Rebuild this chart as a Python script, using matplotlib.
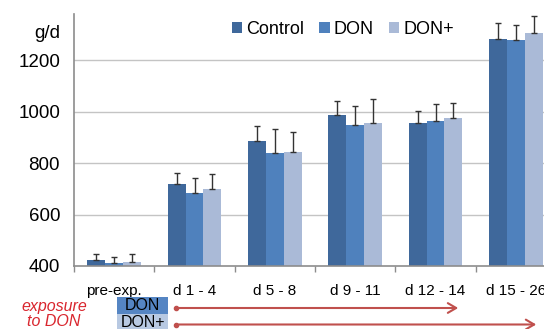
import matplotlib.pyplot as plt
import numpy as np
from matplotlib.patches import Rectangle, FancyArrowPatch

plt.rcParams['font.family'] = ['Liberation Sans', 'DejaVu Sans']

# data
categories = ['pre-exp.', 'd 1 - 4', 'd 5 - 8', 'd 9 - 11', 'd 12 - 14', 'd 15 - 26']
control = [423, 719, 886, 987, 956, 1283]
control_err = [24, 43, 59, 55, 47, 61]
don = [412, 684, 840, 948, 964, 1279]
don_err = [24, 57, 94, 73, 65, 57]
donp = [416, 700, 843, 956, 976, 1306]
donp_err = [29, 57, 77, 92, 57, 66]

series = ['Control', 'DON', 'DON+']
colors = ['#3F689B', '#4F81BD', '#AABAD7']

W, H = 544, 329
fig = plt.figure(figsize=(W / 100, H / 100), dpi=100)
ax = fig.add_axes([74 / W, 1 - 266 / H, 482 / W, 252 / H])

x = np.arange(len(categories))
bw = 0.224
grey = '#8C8C8C'
for i, (vals, errs) in enumerate([(control, control_err), (don, don_err), (donp, donp_err)]):
    xs = x + (i - 1) * bw
    ax.bar(xs, np.array(vals) - 400, bw, bottom=400, color=colors[i], label=series[i], zorder=2)
    ax.errorbar(xs, vals, yerr=[np.zeros(len(errs)), errs], fmt='none',
                ecolor='#333333', elinewidth=1.0, capsize=2.2, capthick=1.0, zorder=3)

ax.set_xlim(-0.5, 5.5)
ax.set_ylim(400, 1380)
ax.set_yticks([400, 600, 800, 1000, 1200])
ax.tick_params(axis='y', length=0, pad=10, labelsize=13.5)
ax.set_xticks(x)
ax.set_xticklabels(categories)
ax.tick_params(axis='x', which='major', length=0, pad=13, labelsize=11)
ax.set_xticks(np.arange(-0.5, 6, 1), minor=True)
ax.tick_params(axis='x', which='minor', length=4, color=grey, width=1)
for y in [600, 800, 1000, 1200]:
    ax.axhline(y, color='#C4C4C4', lw=1.0, zorder=1)
for s in ['top', 'right']:
    ax.spines[s].set_visible(False)
for s in ['left', 'bottom']:
    ax.spines[s].set_color(grey)
    ax.spines[s].set_linewidth(1.2)
    ax.spines[s].set_zorder(4)

fig.text(60 / W, 1 - 34 / H, 'g/d', ha='right', va='center', fontsize=13.5)

fig.legend(loc='upper left', bbox_to_anchor=(232 / W, 1 - 21 / H), ncol=3, frameon=False,
           fontsize=13, handlelength=0.58, handleheight=0.58, handletextpad=0.2,
           columnspacing=0.85, borderpad=0, borderaxespad=0)

red = '#D9262E'
fig.text(54 / W, 1 - 306 / H, 'exposure', color=red, style='italic', fontsize=11.5, ha='center', va='center')
fig.text(54 / W, 1 - 322 / H, 'to DON', color=red, style='italic', fontsize=11.5, ha='center', va='center')

fig.add_artist(Rectangle((117 / W, 1 - 314 / H), 51 / W, 17 / H, transform=fig.transFigure,
                         color='#5585C3', lw=0))
fig.add_artist(Rectangle((117 / W, 1 - 331 / H), 51 / W, 17 / H, transform=fig.transFigure,
                         color='#B8C9E2', lw=0))
fig.text(142.5 / W, 1 - 305.5 / H, 'DON', fontsize=11.5, ha='center', va='center')
fig.text(142.5 / W, 1 - 322.5 / H, 'DON+', fontsize=11.5, ha='center', va='center')

arrow_col = '#C0504D'
for yy, xe in [(308, 461), (324.5, 539)]:
    fig.add_artist(plt.Line2D([176 / W], [1 - yy / H], marker='o', ms=3, color=arrow_col,
                              transform=fig.transFigure))
    fig.add_artist(FancyArrowPatch(
        (176 / W, 1 - yy / H), (xe / W, 1 - yy / H), transform=fig.transFigure,
        arrowstyle='->,head_length=6,head_width=3.5', color=arrow_col, lw=1.5, mutation_scale=1))

fig.savefig('out.png', dpi=100)
